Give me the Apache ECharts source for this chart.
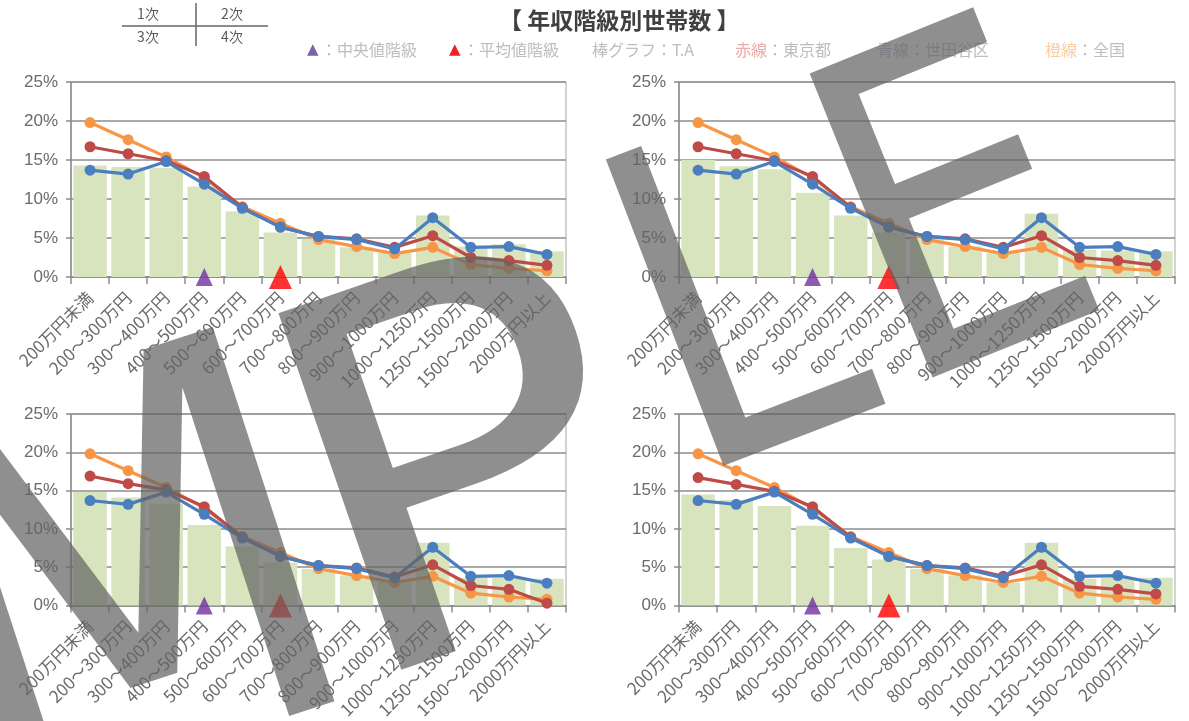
<!DOCTYPE html>
<html><head><meta charset="utf-8">
<script src="https://cdn.jsdelivr.net/npm/echarts@6/dist/echarts.min.js"></script>
<style>html,body{margin:0;padding:0;background:#fff;}#c{width:1189px;height:721px;}</style>
</head><body><div id="c"></div>
<script>
// ---- data ----
const categories = ['200万円未満','200～300万円','300～400万円','400～500万円','500～600万円','600～700万円','700～800万円','800～900万円','900～1000万円','1000～1250万円','1250～1500万円','1500～2000万円','2000万円以上'];
const yTickLabels = ['0%','5%','10%','15%','20%','25%'];
const panelNames = ['1次','2次','3次','4次'];
// bar: T.A
const barsTL = [14.3, 14.1, 14.0, 11.6, 8.4, 5.7, 4.9, 3.8, 3.1, 7.9, 3.9, 4.2, 3.3];
const barsTR = [15.0, 14.2, 13.8, 10.8, 7.9, 5.7, 5.0, 3.9, 3.1, 8.1, 3.5, 3.4, 3.3];
const barsBL = [14.8, 14.1, 13.2, 10.5, 7.7, 5.6, 4.8, 3.9, 3.1, 8.2, 3.6, 3.6, 3.5];
const barsBR = [14.5, 13.8, 13.0, 10.4, 7.5, 6.0, 4.8, 3.9, 3.0, 8.2, 3.5, 3.6, 3.6];
// lines
const tokyo    = [16.7, 15.8, 14.9, 12.9, 8.9, 6.4, 5.2, 4.9, 3.8, 5.3, 2.5, 2.1, 1.5];
const tokyoBL  = [16.9, 15.9, 15.1, 12.9, 8.9, 6.4, 5.2, 4.9, 3.7, 5.3, 2.6, 2.1, 0.3];
const setagaya = [13.7, 13.2, 14.8, 11.9, 8.8, 6.4, 5.2, 4.8, 3.6, 7.6, 3.8, 3.9, 2.9];
const zenkoku  = [19.8, 17.6, 15.4, 12.7, 9.0, 6.9, 4.8, 3.9, 3.0, 3.8, 1.6, 1.1, 0.8];
const medianIndex = 3;
const meanIndex = 5;

const panels = [
  {bars: barsTL, tokyo: tokyo,   setagaya: setagaya, zenkoku: zenkoku},
  {bars: barsTR, tokyo: tokyo,   setagaya: setagaya, zenkoku: zenkoku},
  {bars: barsBL, tokyo: tokyoBL, setagaya: setagaya, zenkoku: zenkoku},
  {bars: barsBR, tokyo: tokyo,   setagaya: setagaya, zenkoku: zenkoku}
];
// ---- layout ----
const gridBoxes = [
  {left: 71,  top: 82,  width: 495, height: 195},
  {left: 679, top: 82,  width: 496, height: 195},
  {left: 71,  top: 414, width: 495, height: 194},
  {left: 679, top: 414, width: 496, height: 194}
];
const axisGray = '#8c8c8c';
const labelGray = '#6a6a6a';

const grid = [], xAxis = [], yAxis = [], series = [];
panels.forEach((p, i) => {
  grid.push(Object.assign({show: true, borderColor: '#a6a6a6', borderWidth: 1, backgroundColor: 'transparent'}, gridBoxes[i]));
  xAxis.push({
    type: 'category', gridIndex: i, data: categories, boundaryGap: true,
    axisLine: {show: true, lineStyle: {color: axisGray, width: 1.5}},
    axisTick: {show: true, interval: 0, length: 7, lineStyle: {color: axisGray, width: 1.5}},
    axisLabel: {interval: 0, rotate: 45, margin: 18, fontSize: 17, color: labelGray, fontFamily: 'Noto Sans CJK JP'},
    splitLine: {show: false}
  });
  yAxis.push({
    type: 'value', gridIndex: i, min: 0, max: 25, interval: 5,
    axisLine: {show: true, lineStyle: {color: axisGray, width: 1.5}},
    axisTick: {show: true, length: 5, lineStyle: {color: axisGray, width: 1.5}},
    axisLabel: {margin: 13, fontSize: 17, color: labelGray, fontFamily: 'Liberation Sans',
      formatter: v => yTickLabels[v / 5]},
    splitLine: {show: true, lineStyle: {color: axisGray, width: 1.5}}
  });
  series.push({
    name: 'T.A', type: 'bar', xAxisIndex: i, yAxisIndex: i, data: p.bars,
    barCategoryGap: '12%', itemStyle: {color: '#d7e4bd'}, z: 1, silent: true
  });
  const lineDefs = [
    {name: '全国', data: p.zenkoku, color: '#f79646'},
    {name: '東京都', data: p.tokyo, color: '#be4b48'},
    {name: '世田谷区', data: p.setagaya, color: '#4a7ebf'}
  ];
  lineDefs.forEach((l, k) => series.push({
    name: l.name, type: 'line', xAxisIndex: i, yAxisIndex: i, data: l.data,
    symbol: 'circle', symbolSize: 11, showSymbol: true,
    lineStyle: {color: l.color, width: 3.2}, itemStyle: {color: l.color},
    z: 3 + k, silent: true, animation: false
  }));
  series.push({
    name: '中央値階級', type: 'scatter', xAxisIndex: i, yAxisIndex: i,
    data: [[categories[medianIndex], 0]], symbol: 'triangle', symbolSize: [17, 18],
    itemStyle: {color: '#7030a0'}, clip: false, z: 8, silent: true
  });
  series.push({
    name: '平均値階級', type: 'scatter', xAxisIndex: i, yAxisIndex: i,
    data: [[categories[meanIndex], 0]], symbol: 'triangle', symbolSize: [23, 24],
    itemStyle: {color: '#ff0000'}, clip: false, z: 8, silent: true
  });
});

const legendFont = '16px "Noto Sans CJK JP"';
const t = (text, x, y, fill, font, align) => ({
  type: 'text', x: x, y: y, silent: true,
  style: {text: text, fill: fill, font: font, align: align || 'left', verticalAlign: 'middle',
    textAlign: align || 'left', textVerticalAlign: 'middle'}
});

const navFont = '14px "Noto Sans CJK JP"';
const graphics = [
  // panel navigator
  t(panelNames[0], 148, 14, '#5a5a5a', navFont, 'center'),
  t(panelNames[1], 232, 14, '#5a5a5a', navFont, 'center'),
  t(panelNames[2], 148, 37, '#5a5a5a', navFont, 'center'),
  t(panelNames[3], 232, 37, '#5a5a5a', navFont, 'center'),
  {type: 'line', silent: true, shape: {x1: 122, y1: 26, x2: 268, y2: 26}, style: {stroke: '#666', lineWidth: 1.5}},
  {type: 'line', silent: true, shape: {x1: 196, y1: 3, x2: 196, y2: 46}, style: {stroke: '#666', lineWidth: 1.5}},
  // legend row
  t('▲', 307, 50, '#7a62a8', '15px "DejaVu Sans"'),
  t('：中央値階級', 321, 50, '#bdbdbd', legendFont),
  t('▲', 449, 50, '#ee2222', '15px "DejaVu Sans"'),
  t('：平均値階級', 463, 50, '#bdbdbd', legendFont),
  t('棒グラフ：T.A', 592, 50, '#bdbdbd', legendFont),
  t('赤線', 735, 50, '#e9aaa8', legendFont),
  t('：東京都', 767, 50, '#bdbdbd', legendFont),
  t('青線', 877, 50, '#b4c2d4', legendFont),
  t('：世田谷区', 909, 50, '#bdbdbd', legendFont),
  t('橙線', 1045, 50, '#f6cfa6', legendFont),
  t('：全国', 1077, 50, '#bdbdbd', legendFont)
];
// watermark "SAMPLE" (only M P L E fall inside the page)
const wm = [
  {ch: 'M', x: 134, y: 619, r: 18, sx: 1.1, sy: 1.2},
  {ch: 'P', x: 470, y: 504, r: 19, sx: 1.3, sy: 1.15},
  {ch: 'L', x: 746, y: 332, r: 21, sx: 0.85, sy: 1},
  {ch: 'E', x: 966, y: 238, r: 22, sx: 0.85, sy: 1}
];
wm.forEach(w => graphics.push({
  type: 'text', x: w.x, y: w.y, rotation: w.r * Math.PI / 180, scaleX: w.sx, scaleY: w.sy, z: 100, silent: true,
  style: {text: w.ch, font: '450px "DejaVu Sans"', fill: 'rgba(100,100,100,0.72)',
    align: 'center', verticalAlign: 'middle', textAlign: 'center', textVerticalAlign: 'middle',
    shadowBlur: 8, shadowColor: 'rgba(0,0,0,0.25)'}
}));

const chart = echarts.init(document.getElementById('c'), null, {renderer: 'canvas'});
chart.setOption({
  animation: false,
  backgroundColor: '#ffffff',
  title: {text: '【 年収階級別世帯数 】', left: 494, top: 4,
    textStyle: {fontSize: 23, fontWeight: 'bold', color: '#404040', fontFamily: 'Noto Sans CJK JP'}},
  grid: grid, xAxis: xAxis, yAxis: yAxis, series: series,
  graphic: {elements: graphics}
});
</script></body></html>
